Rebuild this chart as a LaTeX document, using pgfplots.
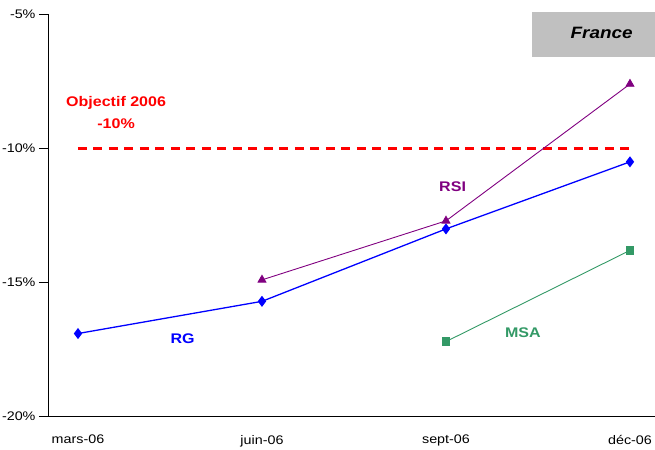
\documentclass[border=0pt]{standalone}
\usepackage{fontspec}
\setmainfont{Liberation Sans}[FakeStretch=1.15]
\usepackage{pgfplots}
\pgfplotsset{compat=1.18}
\definecolor{rgblue}{RGB}{0,0,255}
\definecolor{rsipurple}{RGB}{128,0,128}
\definecolor{msagreen}{RGB}{51,153,102}
\definecolor{boxgray}{RGB}{192,192,192}

\begin{document}
\begin{tikzpicture}
\begin{axis}[
    name=ax,
    scale only axis,
    width=607bp, height=402.4bp,
    xmin=-0.163, xmax=3.136,
    ymin=-20, ymax=-5,
    axis lines=left,
    axis line style={-, black, line width=0.8pt},
    xtick={0,1,2,3},
    xticklabels={mars-06,juin-06,sept-06,déc-06},
    ytick={-20,-15,-10,-5},
    yticklabels={-20\%,-15\%,-10\%,-5\%},
    tick align=outside,
    x tick style={draw=none},
    y tick style={black, line width=0.6pt},
    major tick length=9bp,
    tick label style={font=\fontsize{12.5}{14}\selectfont},
    xticklabel style={yshift=-6bp},
    clip=false,
]
% objectif
\addplot[red, line width=2.2pt, dash pattern=on 9bp off 6.5bp] coordinates {(0,-10) (3,-10)};
% series
\addplot[rgblue, line width=1.3pt, mark=diamond*, mark size=4.5bp]
    coordinates {(0,-16.9) (1,-15.7) (2,-13.0) (3,-10.5)};
\addplot[rsipurple, line width=0.9pt, mark=triangle*, mark size=4.5bp]
    coordinates {(1,-14.9) (2,-12.7) (3,-7.6)};
\addplot[msagreen, line width=0.9pt, mark=square*, mark size=3.7bp]
    coordinates {(2,-17.2) (3,-13.8)};

% labels
\node[text=red, font=\bfseries\fontsize{14}{16}\selectfont] at (axis cs:0.207,-8.29) {Objectif 2006};
\node[text=red, font=\bfseries\fontsize{14}{16}\selectfont] at (axis cs:0.207,-9.09) {-10\%};
\node[text=rsipurple, font=\bfseries\fontsize{14}{16}\selectfont] at (axis cs:2.036,-11.44) {RSI};
\node[text=msagreen, font=\bfseries\fontsize{14}{16}\selectfont] at (axis cs:2.418,-16.88) {MSA};
\node[text=rgblue, font=\bfseries\fontsize{14}{16}\selectfont] at (axis cs:0.569,-17.1) {RG};

% France box
\fill[boxgray] (axis cs:2.466,-4.90) rectangle (axis cs:3.136,-6.58);
\node[font=\bfseries\itshape\fontsize{16.5}{19}\selectfont] at (axis cs:2.846,-5.70) {France};
\end{axis}
\pgfresetboundingbox
\path (ax.south west) ++(-48bp,-33.3bp) rectangle ([yshift=14.3bp]ax.north east);
\end{tikzpicture}
\end{document}
